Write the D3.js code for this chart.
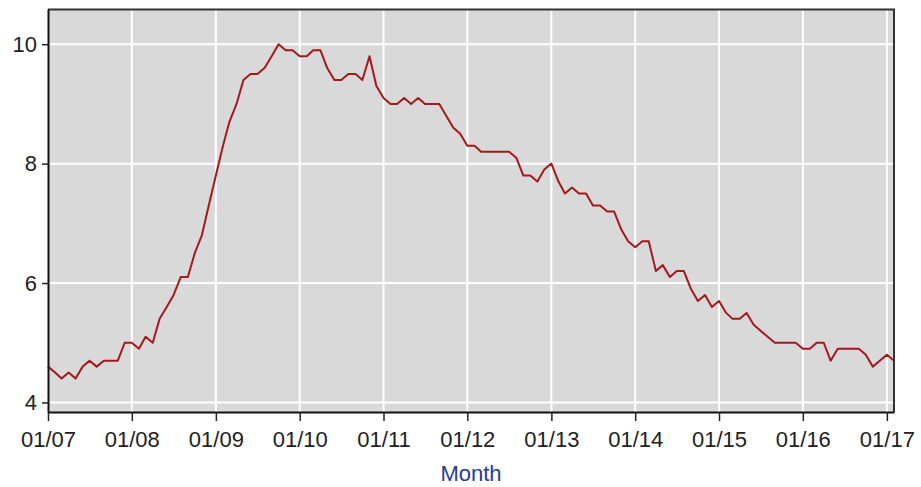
<!DOCTYPE html>
<html lang="en">
<head>
<meta charset="UTF-8">
<title>Unemployment rate</title>
<script src="https://cdn.jsdelivr.net/npm/d3@7"></script>
<style>
  body { margin: 0; background: #fff; }
  svg { display: block; font-family: "Liberation Sans", Arial, sans-serif; }
</style>
</head>
<body>
<div id="chart"></div>
<script>
// monthly values, Jan 2007 .. Feb 2017
const startMonth = "2007-01";
const rate2007 = [4.6, 4.5, 4.4, 4.5, 4.4, 4.6, 4.7, 4.6, 4.7, 4.7, 4.7, 5.0];
const rate2008 = [5.0, 4.9, 5.1, 5.0, 5.4, 5.6, 5.8, 6.1, 6.1, 6.5, 6.8, 7.3];
const rate2009 = [7.8, 8.3, 8.7, 9.0, 9.4, 9.5, 9.5, 9.6, 9.8, 10.0, 9.9, 9.9];
const rate2010 = [9.8, 9.8, 9.9, 9.9, 9.6, 9.4, 9.4, 9.5, 9.5, 9.4, 9.8, 9.3];
const rate2011 = [9.1, 9.0, 9.0, 9.1, 9.0, 9.1, 9.0, 9.0, 9.0, 8.8, 8.6, 8.5];
const rate2012 = [8.3, 8.3, 8.2, 8.2, 8.2, 8.2, 8.2, 8.1, 7.8, 7.8, 7.7, 7.9];
const rate2013 = [8.0, 7.7, 7.5, 7.6, 7.5, 7.5, 7.3, 7.3, 7.2, 7.2, 6.9, 6.7];
const rate2014 = [6.6, 6.7, 6.7, 6.2, 6.3, 6.1, 6.2, 6.2, 5.9, 5.7, 5.8, 5.6];
const rate2015 = [5.7, 5.5, 5.4, 5.4, 5.5, 5.3, 5.2, 5.1, 5.0, 5.0, 5.0, 5.0];
const rate2016 = [4.9, 4.9, 5.0, 5.0, 4.7, 4.9, 4.9, 4.9, 4.9, 4.8, 4.6, 4.7];
const rate2017 = [4.8, 4.7];
const yTicks = [4, 6, 8, 10];
const xLabel = "Month";

const values = [].concat(rate2007, rate2008, rate2009, rate2010, rate2011,
  rate2012, rate2013, rate2014, rate2015, rate2016, rate2017);
const parse = d3.timeParse("%Y-%m");
const start = parse(startMonth);
const data = values.map((v, i) => ({ date: d3.timeMonth.offset(start, i), value: v }));

const width = 921, height = 487;
const margin = { top: 9, right: 27, bottom: 75, left: 48 };
const innerW = width - margin.left - margin.right;
const innerH = height - margin.top - margin.bottom;

const x = d3.scaleTime()
  .domain([start, data[data.length - 1].date])
  .range([0, innerW]);
const y = d3.scaleLinear()
  .domain([3.84, 10.59])
  .range([innerH, 0]);

const svg = d3.select("#chart").append("svg")
  .attr("width", width)
  .attr("height", height);

const g = svg.append("g")
  .attr("transform", `translate(${margin.left},${margin.top})`);

g.append("rect")
  .attr("width", innerW)
  .attr("height", innerH)
  .attr("fill", "#d9d9d9");

const yearTicks = x.ticks(d3.timeYear.every(1));

// grid
g.append("g").selectAll("line")
  .data(yTicks)
  .join("line")
  .attr("x1", 0).attr("x2", innerW)
  .attr("y1", d => y(d)).attr("y2", d => y(d))
  .attr("stroke", "#fff").attr("stroke-width", 2);

g.append("g").selectAll("line")
  .data(yearTicks.slice(1))
  .join("line")
  .attr("x1", d => x(d)).attr("x2", d => x(d))
  .attr("y1", 0).attr("y2", innerH)
  .attr("stroke", "#fff").attr("stroke-width", 2);

// series
const line = d3.line()
  .x(d => x(d.date))
  .y(d => y(d.value));

g.append("path")
  .datum(data)
  .attr("fill", "none")
  .attr("stroke", "#a3191c")
  .attr("stroke-width", 2)
  .attr("stroke-linejoin", "round")
  .attr("d", line);

// frame (top + right)
g.append("path")
  .attr("d", `M0,0.5H${innerW}V${innerH}`)
  .attr("fill", "none")
  .attr("stroke", "#333")
  .attr("stroke-width", 2);

// axes
const xAxis = g.append("g")
  .attr("transform", `translate(0,${innerH})`)
  .call(d3.axisBottom(x)
    .tickValues(yearTicks)
    .tickFormat(d3.timeFormat("%m/%y"))
    .tickSize(9)
    .tickPadding(10)
    .tickSizeOuter(0));

const yAxis = g.append("g")
  .call(d3.axisLeft(y)
    .tickValues(yTicks)
    .tickFormat(d3.format("d"))
    .tickSize(6)
    .tickPadding(5)
    .tickSizeOuter(0));

[xAxis, yAxis].forEach(a => {
  a.select(".domain").attr("stroke", "#111").attr("stroke-width", 2);
  a.selectAll(".tick line").attr("stroke", "#222").attr("stroke-width", 1.5);
  a.selectAll(".tick text")
    .attr("fill", "#222")
    .style("font-size", "22px")
    .style("font-family", "'Liberation Sans', Arial, sans-serif");
});

svg.append("text")
  .attr("x", margin.left + innerW / 2)
  .attr("y", 481)
  .attr("text-anchor", "middle")
  .attr("fill", "#23408e")
  .style("font-size", "22px")
  .text(xLabel);
</script>
</body>
</html>
